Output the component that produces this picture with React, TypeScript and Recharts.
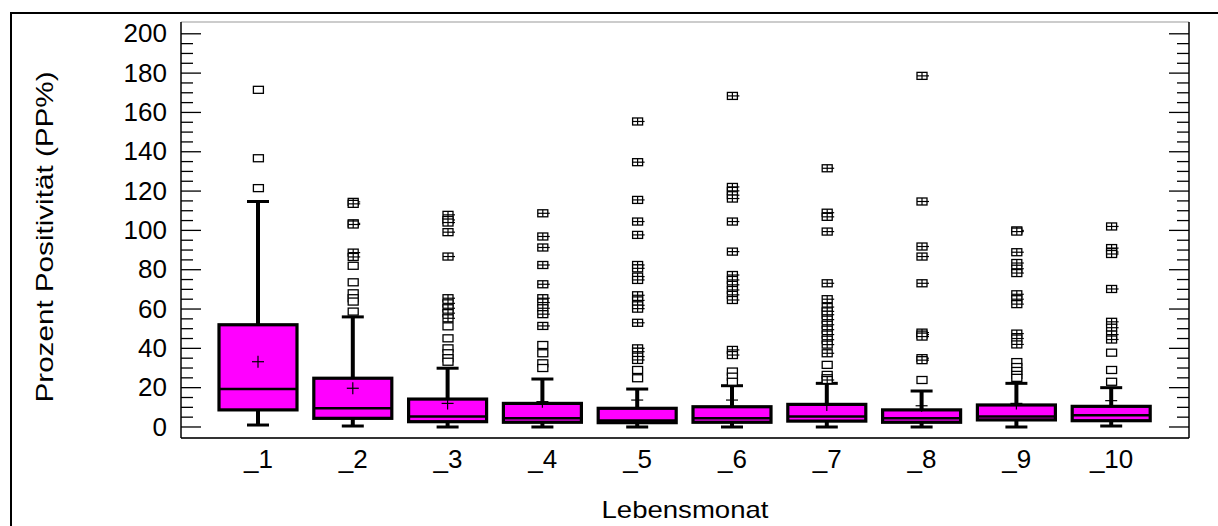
import React from "react";
import {
  ComposedChart,
  Bar,
  Scatter,
  XAxis,
  YAxis,
  CartesianGrid,
} from "recharts";

// Lebensmonat-Gruppen
const categories = ["_1", "_2", "_3", "_4", "_5", "_6", "_7", "_8", "_9", "_10"];

// Kennwerte je Gruppe (PP%)
const whiskerLow = [1, 0.5, 0, 0, 0, 0, 0, 0, 0, 0.5];
const q1 = [8.7, 4.4, 2.7, 2.4, 2.2, 2.4, 3.0, 2.4, 3.6, 3.2];
const median = [19.3, 9.5, 5.3, 4.4, 3.3, 4.4, 5.3, 4.4, 5.3, 6.0];
const q3 = [52, 24.8, 14.2, 12, 9.5, 10.3, 11.5, 8.7, 11.2, 10.5];
const mean = [33.2, 19.7, 12, 12.9, 13.7, 13.7, 11.2, 10.8, 12, 13.4];
const whiskerHigh = [114.7, 56, 29.9, 24.4, 19.3, 21, 22.2, 18.3, 22.2, 20];

// Ausreißer: einfache Quadrate
const outliersPlain: number[][] = [
  [171.5, 136.7, 121.5],
  [82, 73.6, 68, 65.5, 63.8, 58.7],
  [51.2, 45.1, 40, 37.5, 35, 33.2],
  [41.7, 37.5, 32.4, 30],
  [29, 24.8],
  [28.2, 25.6, 23],
  [31.6, 26.5, 24.8],
  [23.9],
  [33, 30.5, 28.5, 26.5, 25],
  [37.8, 29, 23],
];

// Ausreißer: Quadrate mit Kreuz
const outliersCrossed: number[][] = [
  [],
  [114.5, 113.5, 103.6, 103, 88.7, 86.5],
  [107.9, 105.3, 104, 99.1, 86.7, 65.5, 62.9, 60.4, 57.9, 55.3],
  [108.7, 96.9, 91.3, 82.4, 72.6, 65.5, 63.3, 60.4, 57.4, 51.4],
  [155.4, 134.7, 115.5, 104.5, 97.7, 82.4, 80.7, 76.5, 74.8, 67, 64.4, 61.9, 60.2, 53, 40, 38.3, 35.8, 34.1],
  [168.4, 122.1, 120.1, 117.9, 116.2, 104.5, 89.2, 77.3, 74.8, 72.3, 69.7, 67.2, 64.6, 39.2, 36.6],
  [131.6, 109, 106.9, 99.4, 73.1, 65, 61, 58.8, 57.1, 54.6, 52, 49.5, 47, 44.4, 41.9, 37.5, 23.9],
  [178.6, 114.7, 91.8, 86.7, 73.1, 48, 47, 46, 35, 34],
  [100, 99.4, 88.9, 83.4, 80.5, 78.3, 67.5, 65, 62.5, 47.5, 45, 42],
  [102, 91, 89, 88, 70.2, 53.5, 50.5, 47, 44.5],
];

const minorTicks = Array.from({ length: 41 }, (_, i) => i * 5);
const majorTicks = Array.from({ length: 11 }, (_, i) => i * 20);

const FONT = "'Liberation Sans', Arial, Helvetica, sans-serif";
const MAGENTA = "#ff00ff";

const data = categories.map((cat, i) => ({
  cat,
  box: [q1[i], q3[i]],
  lo: whiskerLow[i],
  q1: q1[i],
  med: median[i],
  q3: q3[i],
  mean: mean[i],
  hi: whiskerHigh[i],
}));

const points = [
  ...outliersPlain.flatMap((vals, i) =>
    vals.map((v) => ({ cat: categories[i], v, crossed: false }))
  ),
  ...outliersCrossed.flatMap((vals, i) =>
    vals.map((v) => ({ cat: categories[i], v, crossed: true }))
  ),
];

// Box mit Whiskern, Median und Mittelwert
function BoxShape(props: any) {
  const { x, y, width, height, payload } = props;
  const top = Math.min(y, y + height);
  const h = Math.abs(height);
  const unit = h / (payload.q3 - payload.q1);
  const toY = (v: number) => top + (payload.q3 - v) * unit;
  const cx = x + width / 2;
  const cap = 11;
  return (
    <g>
      <line x1={cx} x2={cx} y1={toY(payload.hi)} y2={top} stroke="#000" strokeWidth={4} />
      <line x1={cx} x2={cx} y1={top + h} y2={toY(payload.lo)} stroke="#000" strokeWidth={4} />
      <line x1={cx - cap} x2={cx + cap} y1={toY(payload.hi)} y2={toY(payload.hi)} stroke="#000" strokeWidth={3} />
      <line x1={cx - cap} x2={cx + cap} y1={toY(payload.lo)} y2={toY(payload.lo)} stroke="#000" strokeWidth={3} />
      <rect x={x} y={top} width={width} height={h} fill={MAGENTA} stroke="#000" strokeWidth={3.2} />
      <line x1={x} x2={x + width} y1={toY(payload.med)} y2={toY(payload.med)} stroke="#000" strokeWidth={2.5} />
      <line x1={cx - 6} x2={cx + 6} y1={toY(payload.mean)} y2={toY(payload.mean)} stroke="#000" strokeWidth={1.2} />
      <line x1={cx} x2={cx} y1={toY(payload.mean) - 6} y2={toY(payload.mean) + 6} stroke="#000" strokeWidth={1.2} />
    </g>
  );
}

function OutlierShape(props: any) {
  const { cx, cy, payload } = props;
  return (
    <g>
      <rect x={cx - 5} y={cy - 3.5} width={10} height={7} fill="#fff" stroke="#000" strokeWidth={1.3} />
      {payload.crossed && (
        <>
          <line x1={cx - 5} x2={cx + 7} y1={cy} y2={cy} stroke="#000" strokeWidth={1.2} />
          <line x1={cx} x2={cx} y1={cy - 3.5} y2={cy + 3.5} stroke="#000" strokeWidth={1.2} />
        </>
      )}
    </g>
  );
}

function LeftTick(props: any) {
  const { x, y, payload } = props;
  const major = payload.value % 20 === 0;
  return (
    <g>
      <line x1={x} x2={x + (major ? 20 : 12)} y1={y} y2={y} stroke="#000" strokeWidth={1.3} />
      {major && (
        <text x={x - 14} y={y} dy={8.7} textAnchor="end" fontSize={26} fontFamily={FONT} fill="#000">
          {payload.value}
        </text>
      )}
    </g>
  );
}

function RightTick(props: any) {
  const { x, y, payload } = props;
  const major = payload.value % 20 === 0;
  return <line x1={x} x2={x - (major ? 20 : 12)} y1={y} y2={y} stroke="#000" strokeWidth={1.3} />;
}

function XTick(props: any) {
  const { x, y, payload } = props;
  return (
    <text x={x} y={y} dy={25} textAnchor="middle" fontSize={26} fontFamily={FONT} fill="#000">
      {payload.value}
    </text>
  );
}

function YLabel(props: any) {
  const { viewBox } = props;
  const cy = viewBox.y + viewBox.height / 2 + 7;
  return (
    <text
      x={44}
      y={cy}
      transform={`rotate(-90 44 ${cy})`}
      textAnchor="middle"
      dominantBaseline="central"
      fontSize={24}
      fontFamily={FONT}
      fill="#000"
      textLength={331}
      lengthAdjust="spacingAndGlyphs"
    >
      Prozent Positivität (PP%)
    </text>
  );
}

function XLabel(props: any) {
  const { viewBox } = props;
  const cx = viewBox.x + viewBox.width / 2;
  return (
    <text
      x={cx}
      y={viewBox.y + viewBox.height - 8}
      textAnchor="middle"
      fontSize={24}
      fontFamily={FONT}
      fill="#000"
      textLength={167}
      lengthAdjust="spacingAndGlyphs"
    >
      Lebensmonat
    </text>
  );
}

export default function App() {
  return (
    <div style={{ position: "absolute", left: 0, top: 0, width: 1218, height: 526, overflow: "hidden", background: "#fff" }}>
      <div
        style={{
          position: "absolute",
          left: 10,
          top: 12,
          width: 1400,
          height: 800,
          borderLeft: "2px solid #000",
          borderTop: "2px solid #000",
        }}
      />
      <div style={{ position: "absolute", left: 0, top: 0 }}>
        <ComposedChart
          width={1218}
          height={526}
          data={data}
          margin={{ top: 22, right: 0, bottom: 0, left: 0 }}
        >
          <CartesianGrid yAxisId="grid" vertical={false} stroke="#999" strokeWidth={1} />
          <XAxis
            dataKey="cat"
            type="category"
            allowDuplicatedCategory={false}
            padding={{ left: 30, right: 30 }}
            height={88}
            axisLine={{ stroke: "#000", strokeWidth: 1.5 }}
            tickLine={false}
            tickSize={0}
            tickMargin={5}
            tick={<XTick />}
            interval={0}
            label={<XLabel />}
          />
          <XAxis
            xAxisId="top"
            orientation="top"
            dataKey="cat"
            height={0}
            tick={false}
            tickLine={false}
            axisLine={{ stroke: "#000", strokeWidth: 1.5 }}
          />
          <YAxis
            type="number"
            domain={[-5.6, 206]}
            allowDataOverflow
            ticks={minorTicks}
            interval={0}
            width={181}
            tickSize={0}
            tickMargin={0}
            tickLine={false}
            tick={<LeftTick />}
            axisLine={{ stroke: "#000", strokeWidth: 1.5 }}
            label={<YLabel />}
          />
          <YAxis
            yAxisId="right"
            orientation="right"
            type="number"
            domain={[-5.6, 206]}
            allowDataOverflow
            ticks={minorTicks}
            interval={0}
            width={29}
            tickSize={0}
            tickMargin={0}
            tickLine={false}
            tick={<RightTick />}
            axisLine={{ stroke: "#000", strokeWidth: 1.5 }}
          />
          <YAxis
            yAxisId="grid"
            type="number"
            domain={[-5.6, 206]}
            allowDataOverflow
            ticks={majorTicks}
            interval={0}
            width={0}
            tick={false}
            tickLine={false}
            axisLine={false}
          />
          <Bar dataKey="box" barSize={78} shape={<BoxShape />} isAnimationActive={false} />
          <Scatter data={points} dataKey="v" shape={<OutlierShape />} isAnimationActive={false} />
        </ComposedChart>
      </div>
    </div>
  );
}
